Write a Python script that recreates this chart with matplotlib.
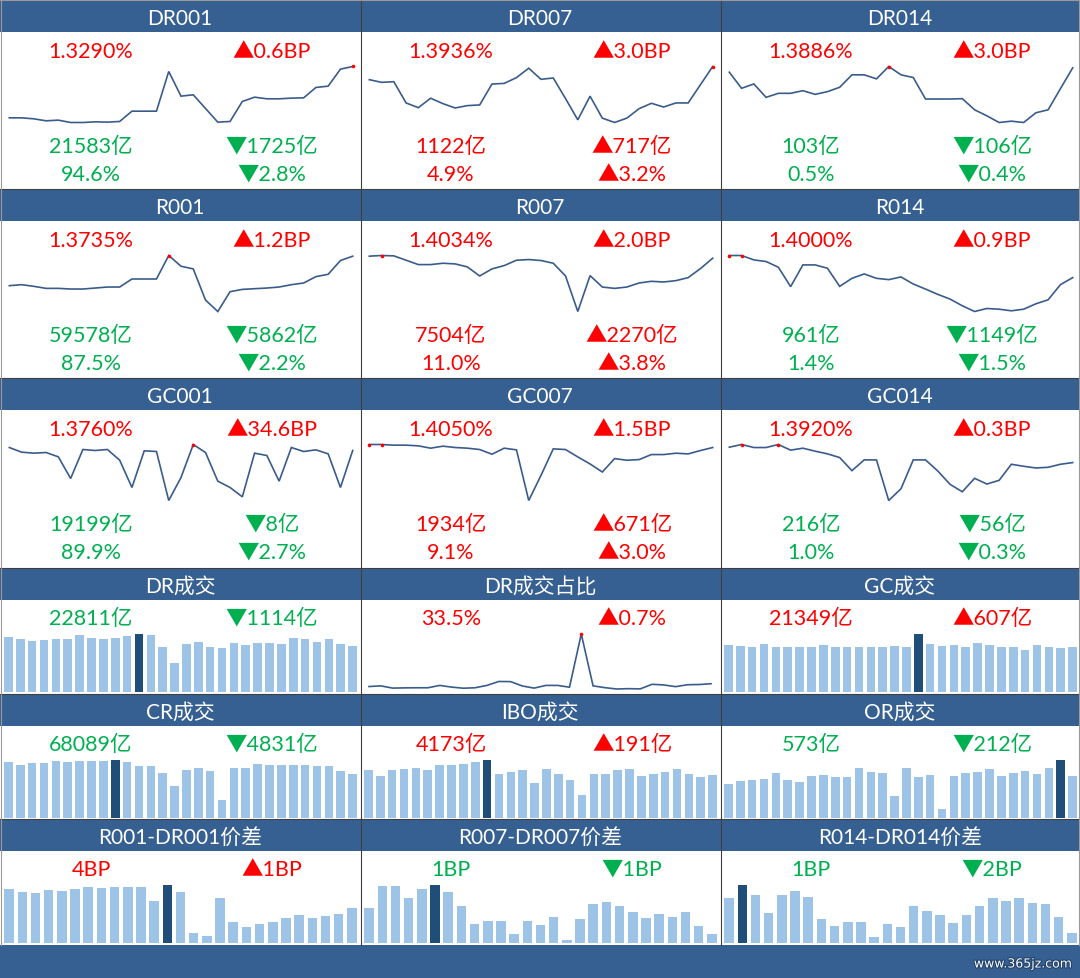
import matplotlib
matplotlib.use("Agg")
import matplotlib.pyplot as plt
from matplotlib.patches import Rectangle
import matplotlib.patheffects as pe

plt.rcParams["font.family"] = ["Lato", "Noto Sans CJK SC", "DejaVu Sans"]

# ---- data -------------------------------------------------------------
# rate sparklines (%), 29 days
dr001 = [1.2135, 1.2135, 1.2113, 1.2068, 1.2083, 1.2030, 1.2030, 1.2045, 1.2038, 1.2053,
         1.2285, 1.2285, 1.2285, 1.3178, 1.2623, 1.2653, 1.2345, 1.2038, 1.2053, 1.2503,
         1.2600, 1.2563, 1.2563, 1.2578, 1.2585, 1.2818, 1.2848, 1.3230, 1.3290]
dr007 = [1.3719, 1.3675, 1.3686, 1.3336, 1.3258, 1.3414, 1.3325, 1.3253, 1.3292, 1.3303,
         1.3647, 1.3658, 1.3753, 1.3908, 1.3725, 1.3747, 1.3408, 1.3058, 1.3447, 1.3086,
         1.3014, 1.3086, 1.3242, 1.3330, 1.3269, 1.3336, 1.3336, 1.3636, 1.3936]
dr014 = [1.3823, 1.3591, 1.3654, 1.3461, 1.3519, 1.3519, 1.3557, 1.3504, 1.3543, 1.3606,
         1.3785, 1.3785, 1.3727, 1.3905, 1.3785, 1.3746, 1.3437, 1.3437, 1.3437, 1.3442,
         1.3282, 1.3195, 1.3099, 1.3118, 1.3099, 1.3239, 1.3282, 1.3586, 1.3886]
r001 = [1.2920, 1.2948, 1.2902, 1.2846, 1.2846, 1.2828, 1.2828, 1.2855, 1.2883, 1.2883,
        1.3105, 1.3105, 1.3105, 1.3754, 1.3457, 1.3383, 1.2522, 1.2207, 1.2754, 1.2818,
        1.2837, 1.2855, 1.2883, 1.2948, 1.2994, 1.3170, 1.3235, 1.3615, 1.3735]
r007 = [1.4073, 1.4086, 1.4079, 1.3995, 1.3911, 1.3911, 1.3937, 1.3924, 1.3866, 1.3692,
        1.3828, 1.3892, 1.3995, 1.4008, 1.3989, 1.3937, 1.3692, 1.3008, 1.3699, 1.3479,
        1.3453, 1.3479, 1.3557, 1.3589, 1.3576, 1.3602, 1.3660, 1.3834, 1.4034]
r014 = [1.4287, 1.4287, 1.4230, 1.4209, 1.4135, 1.3883, 1.4165, 1.4165, 1.4122, 1.3887,
        1.3991, 1.4048, 1.3991, 1.3974, 1.4009, 1.3917, 1.3852, 1.3783, 1.3722, 1.3635,
        1.3561, 1.3600, 1.3591, 1.3570, 1.3591, 1.3661, 1.3713, 1.3909, 1.4000]
gc001 = [1.4041, 1.3604, 1.3510, 1.3572, 1.3166, 1.1135, 1.3854, 1.3760, 1.3854, 1.2854,
         1.0291, 1.3729, 1.3666, 0.9072, 1.1229, 1.4323, 1.3572, 1.0885, 1.0291, 0.9416,
         1.3510, 1.3291, 1.0885, 1.4041, 1.3666, 1.3823, 1.3447, 1.0291, 1.3760]
gc007 = [1.4200, 1.4200, 1.4167, 1.4167, 1.4133, 1.4017, 1.4117, 1.4050, 1.4017, 1.3950,
         1.3717, 1.4017, 1.3933, 1.1417, 1.2667, 1.3983, 1.3950, 1.3583, 1.3233, 1.2833,
         1.3500, 1.3417, 1.3450, 1.3700, 1.3700, 1.3767, 1.3733, 1.3900, 1.4050]
gc014 = [1.4195, 1.4243, 1.4189, 1.4189, 1.4243, 1.4142, 1.4177, 1.4124, 1.4076, 1.4010,
         1.3776, 1.3968, 1.3968, 1.3243, 1.3453, 1.3968, 1.3968, 1.3770, 1.3531, 1.3399,
         1.3639, 1.3537, 1.3603, 1.3890, 1.3854, 1.3824, 1.3836, 1.3890, 1.3920]

# volumes (亿), 30 days
dr_vol = [27400, 26380, 25360, 25870, 26720, 26380, 28590, 27230, 26380, 27230,
          27910, 29100, 28590, 22300, 14640, 23830, 25020, 22300, 21960, 24680,
          23490, 24340, 24340, 23830, 27230, 26720, 25020, 26380, 23925, 22811]
dr_share = [31.0, 31.6, 29.6, 29.8, 29.9, 29.9, 32.0, 30.5, 29.5, 29.9,
            32.0, 35.5, 35.4, 31.5, 29.6, 32.0, 32.0, 30.4, 77.9, 31.6,
            30.0, 28.8, 29.1, 28.9, 33.0, 32.4, 30.9, 32.6, 32.8, 33.5]
gc_vol = [22150, 21830, 21349, 22790, 21349, 21030, 21349, 21030, 22150, 21030,
          21030, 21349, 21349, 21349, 21830, 21030, 27450, 22790, 21830, 22150,
          21030, 23270, 22150, 21349, 21349, 19580, 22150, 21030, 20742, 21349]
cr_vol = [88300, 83520, 85650, 86720, 89380, 88310, 89380, 89380, 89380, 90970,
          87250, 81930, 80860, 70760, 49480, 74480, 78200, 73420, 28200, 78200,
          78200, 84590, 83520, 82460, 82460, 82460, 80860, 80860, 72920, 68089]
ibo_vol = [4637, 4074, 4637, 4736, 4868, 4637, 5200, 5200, 5266, 5431,
           5663, 4239, 4471, 4637, 3444, 4802, 4305, 3709, 2219, 4305,
           4239, 4637, 4802, 4074, 4305, 4471, 4802, 4305, 3982, 4173]
or_vol = [464, 496, 509, 532, 614, 518, 487, 573, 582, 550,
          559, 669, 623, 605, 296, 669, 550, 582, 118, 573,
          614, 623, 659, 573, 605, 637, 591, 669, 785, 573]

# spreads (BP), 27 days
sp001 = [6.27, 5.88, 5.80, 6.12, 6.00, 6.27, 6.47, 6.35, 6.47, 6.47, 6.47, 4.90, 6.75, 5.88,
         1.06, 0.71, 5.25, 2.35, 1.84, 2.20, 2.35, 2.86, 3.22, 2.86, 3.10, 3.37, 4.00]
sp007 = [4.08, 6.80, 6.76, 5.28, 6.40, 6.88, 6.00, 4.32, 2.16, 2.52, 2.52, 1.04, 2.52, 2.04,
         3.00, 0.24, 2.84, 4.60, 4.80, 4.40, 3.68, 2.92, 3.36, 3.00, 3.68, 1.96, 1.00]
sp014 = [5.02, 6.54, 5.43, 3.38, 5.36, 5.81, 5.21, 2.70, 1.86, 2.28, 2.36, 0.61, 2.05, 1.71,
         4.18, 3.57, 3.12, 2.20, 3.12, 4.18, 5.09, 4.75, 5.09, 4.45, 4.37, 2.89, 1.03]

R, G = "r", "g"
rate_panels = [
    ("DR001", dr001, [("1.3290%", R), ("▲0.6BP", R), ("21583亿", G), ("▼1725亿", G), ("94.6%", G), ("▼2.8%", G)]),
    ("DR007", dr007, [("1.3936%", R), ("▲3.0BP", R), ("1122亿", R), ("▲717亿", R), ("4.9%", R), ("▲3.2%", R)]),
    ("DR014", dr014, [("1.3886%", R), ("▲3.0BP", R), ("103亿", G), ("▼106亿", G), ("0.5%", G), ("▼0.4%", G)]),
    ("R001", r001, [("1.3735%", R), ("▲1.2BP", R), ("59578亿", G), ("▼5862亿", G), ("87.5%", G), ("▼2.2%", G)]),
    ("R007", r007, [("1.4034%", R), ("▲2.0BP", R), ("7504亿", R), ("▲2270亿", R), ("11.0%", R), ("▲3.8%", R)]),
    ("R014", r014, [("1.4000%", R), ("▲0.9BP", R), ("961亿", G), ("▼1149亿", G), ("1.4%", G), ("▼1.5%", G)]),
    ("GC001", gc001, [("1.3760%", R), ("▲34.6BP", R), ("19199亿", G), ("▼8亿", G), ("89.9%", G), ("▼2.7%", G)]),
    ("GC007", gc007, [("1.4050%", R), ("▲1.5BP", R), ("1934亿", R), ("▲671亿", R), ("9.1%", R), ("▲3.0%", R)]),
    ("GC014", gc014, [("1.3920%", R), ("▲0.3BP", R), ("216亿", G), ("▼56亿", G), ("1.0%", G), ("▼0.3%", G)]),
]
small_panels = [
    ("DR成交", "bar", dr_vol, [("22811亿", G), ("▼1114亿", G)]),
    ("DR成交占比", "line", dr_share, [("33.5%", R), ("▲0.7%", R)]),
    ("GC成交", "bar", gc_vol, [("21349亿", R), ("▲607亿", R)]),
    ("CR成交", "bar", cr_vol, [("68089亿", G), ("▼4831亿", G)]),
    ("IBO成交", "bar", ibo_vol, [("4173亿", R), ("▲191亿", R)]),
    ("OR成交", "bar", or_vol, [("573亿", G), ("▼212亿", G)]),
    ("R001-DR001价差", "bar", sp001, [("4BP", R), ("▲1BP", R)]),
    ("R007-DR007价差", "bar", sp007, [("1BP", G), ("▼1BP", G)]),
    ("R014-DR014价差", "bar", sp014, [("1BP", G), ("▼2BP", G)]),
]

# ---- style ------------------------------------------------------------
W, H = 1080, 979
HEAD = "#366092"
LINE = "#3A5C8C"
COLORS = {"r": "#FF0000", "g": "#00B050"}
LIGHT = "#9DC3E6"
DARK = "#1F4E79"
BORDER = "#3F3F3F"

row_tops = [1, 190, 379, 569, 695, 820]
row_bottoms = [190, 379, 569, 695, 820, 946]
HEAD_H = 32

fig = plt.figure(figsize=(W / 100, H / 100), dpi=100)


def frac(x, y, w, h):
    return [x / W, 1 - (y + h) / H, w / W, h / H]


bg = fig.add_axes([0, 0, 1, 1])
bg.set_xlim(0, W)
bg.set_ylim(H, 0)
bg.axis("off")

for top in row_tops:
    bg.add_patch(Rectangle((0, top), W, HEAD_H, color=HEAD, lw=0))
bg.add_patch(Rectangle((0, 946), W, H - 946, color=HEAD, lw=0))
for yb in row_bottoms[:-1]:
    bg.plot([0, W], [yb, yb], color=BORDER, lw=0.8)
for xb in (360.5, 720.5):
    bg.plot([xb, xb], [0, 946], color=BORDER, lw=0.8)
bg.plot([0.5, 0.5], [0, 946], color="#9A9A9A", lw=0.8)
bg.plot([1078.5, 1078.5], [0, 946], color="#9A9A9A", lw=0.8)
bg.plot([0, W], [0.5, 0.5], color="#9A9A9A", lw=0.8)

bg.text(1072, 965, "www.365jz.com", ha="right", va="center", fontsize=9, color="white",
        family=["DejaVu Sans"], path_effects=[pe.withStroke(linewidth=1.5, foreground="#1F3F66")])


def header(col, top, title):
    bg.text(col * 360 + 180, top + HEAD_H / 2 + 2, title, ha="center", va="center",
            color="white", fontsize=15)


def label(x, y, s, c):
    bg.text(x, y + 1, s, ha="center", va="center", color=COLORS[c], fontsize=15.5)


def spark_line(x0, top, vals, y_top, y_bot, x_left=9.3, x_right=352.7):
    ax = fig.add_axes(frac(x0 + x_left, top + y_top, x_right - x_left, y_bot - y_top))
    ax.axis("off")
    n = len(vals)
    xs = list(range(n))
    ax.plot(xs, vals, color=LINE, lw=1.2, clip_on=False, solid_joinstyle="miter")
    vmax = max(vals)
    mx = [i for i, v in enumerate(vals) if v == vmax]
    ax.plot(mx, [vmax] * len(mx), "o", color="#FF0000", ms=2.6, clip_on=False, mew=0)
    ax.set_xlim(0, n - 1)
    ax.set_ylim(min(vals), vmax)


def spark_bar(x0, top, vals, y_top, y_bot):
    n = len(vals)
    ax = fig.add_axes(frac(x0 + 2.5, top + y_top, 356, y_bot - y_top))
    ax.axis("off")
    vmax = max(vals)
    cols = [DARK if v == vmax else LIGHT for v in vals]
    ax.bar(range(n), vals, width=0.72, color=cols, edgecolor="none")
    ax.set_xlim(-0.5, n - 0.5)
    ax.set_ylim(0, vmax)


for k, (title, vals, texts) in enumerate(rate_panels):
    r, c = divmod(k, 3)
    top = row_tops[r]
    x0 = c * 360
    header(c, top, title)
    for j, (s, col) in enumerate(texts):
        yy = top + [50, 145, 173][j // 2]
        xx = x0 + (91 if j % 2 == 0 else 272)
        label(xx, yy, s, col)
    spark_line(x0, top, vals, 66.5, 122.5)

for k, (title, kind, vals, texts) in enumerate(small_panels):
    r, c = divmod(k, 3)
    top = row_tops[r + 3]
    x0 = c * 360
    header(c, top, title)
    label(x0 + 91, top + 49, texts[0][0], texts[0][1])
    label(x0 + 272, top + 49, texts[1][0], texts[1][1])
    if kind == "bar":
        spark_bar(x0, top, vals, 66, 123.5)
    else:
        spark_line(x0, top, vals, 66, 121, x_left=9, x_right=351)

fig.savefig("out.png", dpi=100)
